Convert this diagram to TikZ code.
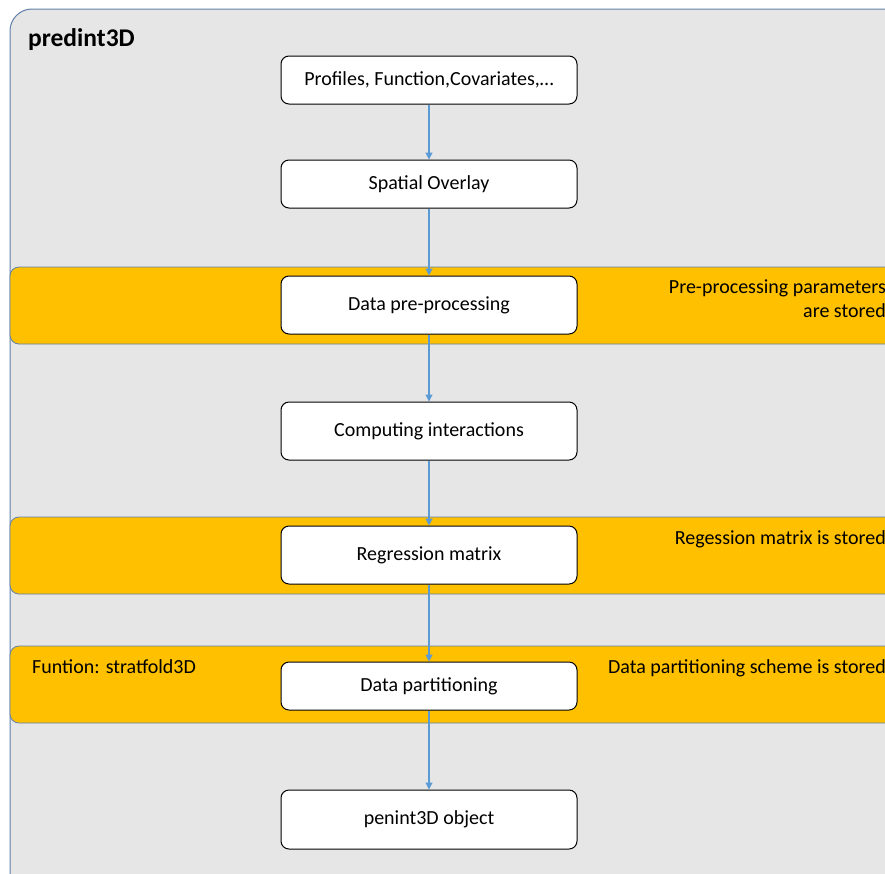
\documentclass[tikz,border=0pt]{standalone}
\usepackage{fontspec}
\setmainfont{Carlito}
\usetikzlibrary{positioning,arrows.meta}
\definecolor{panelgray}{RGB}{230,230,230}
\definecolor{panelline}{RGB}{96,128,170}
\definecolor{stageorange}{RGB}{255,192,0}
\definecolor{flowblue}{RGB}{91,155,213}
\tikzstyle{stepbox}=[draw,fill=white,rounded corners=8pt,line width=1pt,
  minimum width=296pt,inner sep=0pt,font=\fontsize{20}{25}\selectfont]
\tikzstyle{flow}=[draw=flowblue,line width=1.1pt,-{Triangle[width=7pt,length=7pt]}]
\tikzstyle{band}=[fill=stageorange,draw=panelline,line width=0.8pt,rounded corners=9pt]
\tikzstyle{note}=[inner sep=0pt,font=\fontsize{20}{24}\selectfont]
\newcommand{\newStep}[4]{\node[stepbox,#3](#1)[#4]{#2};}
\newcommand{\newFlow}[2]{\path[flow] (#1) -- (#2);}

\begin{document}
\begin{tikzpicture}[x=1pt,y=-1pt]
      \useasboundingbox (0,0) rectangle (885,873);
      \clip (0,0) rectangle (885,873);
      % outer panel and stage bands
      \draw[fill=panelgray,draw=panelline,line width=1pt,rounded corners=22pt]
        (10,9) rectangle (920,900);
      \draw[band] (10,267) rectangle (920,344);
      \draw[band] (10,517) rectangle (920,594);
      \draw[band] (10,646) rectangle (920,723);
      % steps
      \node[stepbox,minimum height=48pt] (input) at (429,80) {Profiles, Function,Covariates,\dots};
      \newStep{overlay}{Spatial Overlay}{minimum height=48pt}{below=55pt of input}
      \newStep{prep}{Data pre-processing}{minimum height=58pt}{below=67pt of overlay}
      \newStep{inter}{Computing interactions}{minimum height=58pt}{below=67pt of prep}
      \newStep{regmat}{Regression matrix}{minimum height=58pt}{below=65pt of inter}
      \newStep{part}{Data partitioning}{minimum height=48pt}{below=77pt of regmat}
      \newStep{result}{penint3D object}{minimum height=59pt}{below=79pt of part}
      \newFlow{input}{overlay}
      \newFlow{overlay}{prep}
      \newFlow{prep}{inter}
      \newFlow{inter}{regmat}
      \newFlow{regmat}{part}
      \newFlow{part}{result}
      % labels
      \node[anchor=base west,inner sep=0pt,font=\fontsize{25.5}{30}\selectfont\bfseries]
        (title) at (28,46) {predint3D};
      \node[note,anchor=base east,align=right] (prepnote) at (886,317)
        {Pre-processing parameters\\are stored};
      \node[note,anchor=base east] (regnote) at (886,544) {Regession matrix is stored};
      \node[note,anchor=base east] (partnote) at (886,673) {Data partitioning scheme is stored};
      \node[note,anchor=base west] (funnote) at (32,673) {Funtion: stratfold3D};
\end{tikzpicture}
\end{document}
